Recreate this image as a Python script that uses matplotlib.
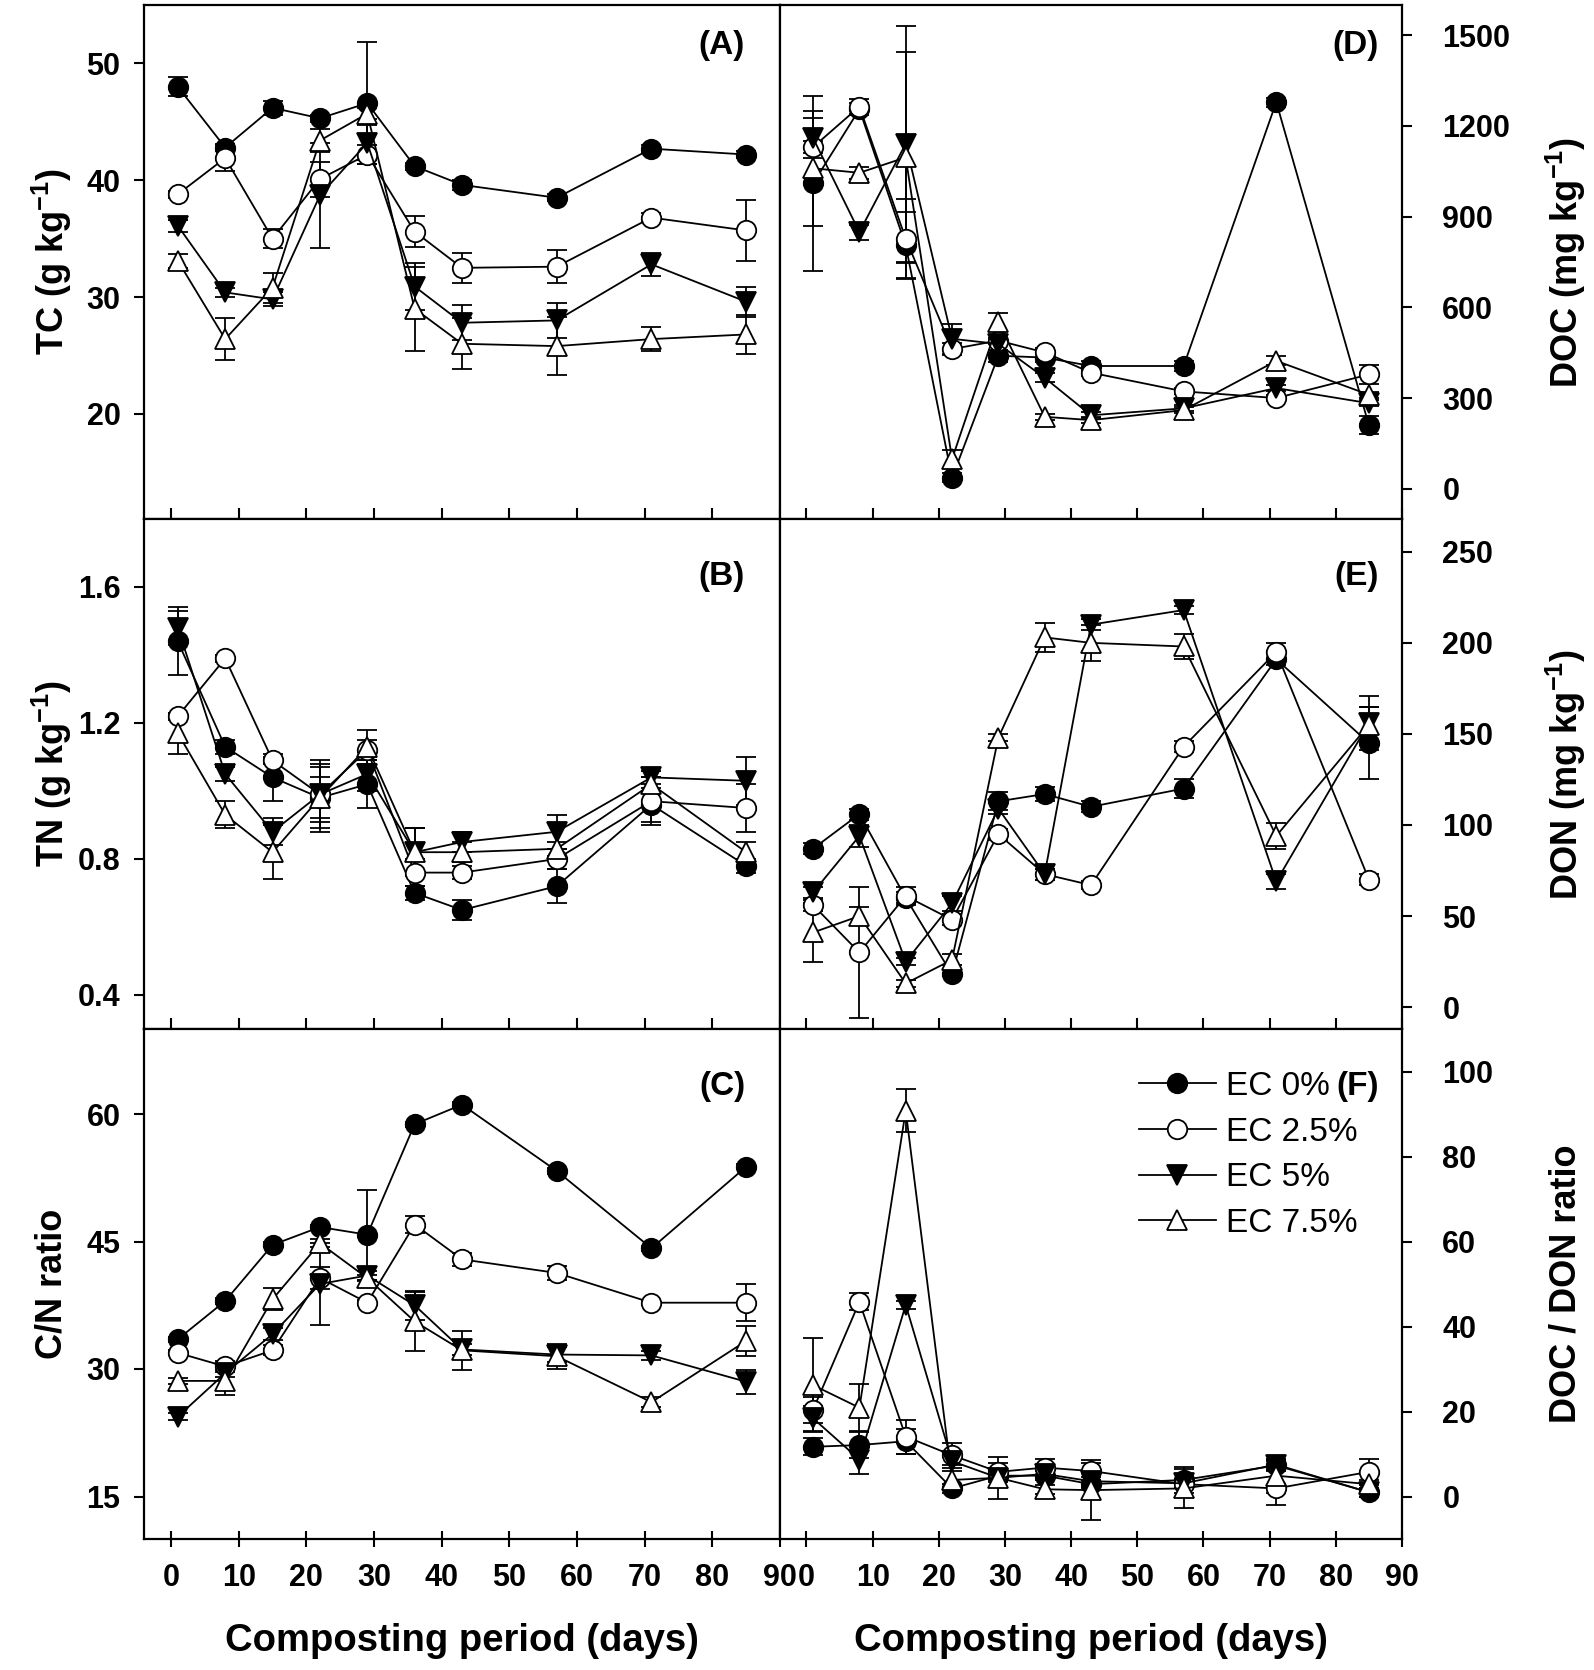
import matplotlib
matplotlib.use('Agg')
import matplotlib.pyplot as plt
from matplotlib import font_manager
from matplotlib.lines import Line2D

# Dias de muestreo
days = [1, 8, 15, 22, 29, 36, 43, 57, 71, 85]
series = ['EC 0%', 'EC 2.5%', 'EC 5%', 'EC 7.5%']

# (A) TC (g kg-1)
tc = [
    [48.0, 42.8, 46.2, 45.3, 46.6, 41.2, 39.6, 38.5, 42.7, 42.2],
    [38.8, 41.9, 35.0, 40.1, 42.2, 35.6, 32.5, 32.6, 36.8, 35.7],
    [36.1, 30.4, 29.8, 38.7, 43.2, 30.9, 27.8, 28.0, 32.8, 29.6],
    [33.1, 26.4, 30.8, 43.4, 45.7, 29.0, 26.0, 25.8, 26.4, 26.8],
]
tc_err = [
    [0.8, 0.3, 0.6, 0.3, 5.2, 0.3, 0.4, 0.3, 0.3, 0.3],
    [0.3, 1.1, 0.8, 1.5, 0.8, 1.3, 1.3, 1.4, 0.4, 2.6],
    [0.5, 0.4, 0.6, 4.5, 1.5, 2.0, 1.5, 1.5, 1.0, 1.3],
    [0.6, 1.8, 1.3, 1.0, 0.5, 3.6, 2.2, 2.5, 1.0, 1.7],
]

# (B) TN (g kg-1)
tn = [
    [1.44, 1.13, 1.04, 0.98, 1.02, 0.70, 0.65, 0.72, 0.96, 0.78],
    [1.22, 1.39, 1.09, 0.99, 1.12, 0.76, 0.76, 0.80, 0.97, 0.95],
    [1.48, 1.05, 0.88, 0.99, 1.05, 0.82, 0.85, 0.88, 1.04, 1.03],
    [1.17, 0.93, 0.82, 0.98, 1.13, 0.82, 0.82, 0.83, 1.02, 0.82],
]
tn_err = [
    [0.10, 0.02, 0.07, 0.06, 0.07, 0.02, 0.03, 0.05, 0.05, 0.02],
    [0.01, 0.01, 0.01, 0.10, 0.03, 0.04, 0.02, 0.03, 0.07, 0.07],
    [0.05, 0.02, 0.04, 0.08, 0.05, 0.07, 0.03, 0.05, 0.02, 0.07],
    [0.06, 0.04, 0.08, 0.10, 0.05, 0.07, 0.03, 0.02, 0.02, 0.03],
]

# (C) C/N ratio
cn = [
    [33.5, 38.0, 44.6, 46.7, 45.8, 58.8, 61.1, 53.3, 44.2, 53.8],
    [31.9, 30.3, 32.2, 40.7, 37.8, 47.0, 42.9, 41.3, 37.8, 37.8],
    [24.4, 29.5, 34.1, 40.0, 41.0, 37.5, 32.3, 31.7, 31.6, 28.5],
    [28.6, 28.6, 38.2, 44.8, 40.7, 35.6, 32.2, 31.5, 26.1, 33.3],
]
cn_err = [
    [0.3, 0.3, 0.3, 0.3, 5.3, 0.3, 0.3, 0.3, 0.3, 0.3],
    [0.3, 0.7, 0.6, 1.3, 0.3, 1.0, 0.8, 0.8, 0.3, 2.2],
    [0.4, 0.4, 0.7, 4.8, 0.5, 1.7, 0.7, 0.9, 0.5, 1.4],
    [0.4, 1.7, 1.3, 0.5, 0.4, 3.5, 2.3, 1.5, 0.6, 1.8],
]

# (D) DOC (mg kg-1)
doc = [
    [1010, 1255, 805, 36, 440, 434, 406, 406, 1279, 210],
    [1130, 1264, 827, 462, 490, 451, 384, 322, 300, 378],
    [1160, 849, 1141, 496, 479, 367, 243, 266, 333, 283],
    [1060, 1045, 1096, 98, 552, 238, 227, 260, 423, 311],
]
doc_err = [
    [290, 20, 110, 15, 20, 15, 15, 15, 15, 30],
    [20, 25, 130, 20, 10, 15, 10, 10, 10, 30],
    [65, 25, 390, 50, 30, 15, 10, 10, 10, 10],
    [190, 20, 350, 30, 30, 10, 10, 10, 15, 10],
]

# (E) DON (mg kg-1)
don = [
    [87, 106, 60, 18, 113, 117, 110, 120, 191, 145],
    [56, 30, 61, 48, 95, 73, 67, 143, 195, 70],
    [63, 94, 25, 57, 109, 73, 210, 218, 69, 156],
    [41, 50, 13, 26, 148, 203, 200, 198, 94, 155],
]
don_err = [
    [3, 3, 3, 1, 5, 4, 3, 5, 3, 20],
    [3, 36, 5, 3, 3, 3, 2, 3, 5, 3],
    [3, 6, 2, 4, 3, 3, 3, 2, 4, 15],
    [16, 5, 2, 3, 2, 8, 10, 7, 7, 10],
]

# (F) DOC / DON ratio
ratio = [
    [11.7, 12.1, 13.0, 1.9, 4.9, 4.9, 2.9, 3.9, 7.3, 1.0],
    [20.4, 45.8, 14.1, 9.7, 5.8, 6.8, 6.0, 2.9, 1.9, 5.8],
    [18.4, 8.7, 45.1, 8.3, 4.4, 5.3, 3.6, 3.1, 7.5, 1.0],
    [26.2, 20.9, 90.8, 3.9, 4.4, 1.7, 1.5, 1.9, 4.9, 2.9],
]
ratio_err = [
    [2, 3, 3, 1, 1, 1, 1, 3, 1, 1],
    [3, 2, 4, 3, 2, 2, 2, 1, 4, 3],
    [3, 3.5, 1, 1, 1, 1, 1, 1, 1, 1],
    [11, 5.5, 5, 2, 5, 1, 7, 4.5, 4, 1],
]

names = {f.name for f in font_manager.fontManager.ttflist}
base_font = 'Liberation Sans' if 'Liberation Sans' in names else 'DejaVu Sans'

plt.rcParams['font.family'] = base_font
plt.rcParams['mathtext.fontset'] = 'custom'
plt.rcParams['mathtext.bf'] = base_font + ':bold'
plt.rcParams['mathtext.rm'] = base_font + ':bold'

styles = [
    dict(marker='o', mfc='black', mec='black'),
    dict(marker='o', mfc='white', mec='black'),
    dict(marker='v', mfc='black', mec='black'),
    dict(marker='^', mfc='white', mec='black'),
]

fig = plt.figure(figsize=(15.94, 16.70), dpi=100)

W, H = 1594.0, 1670.0
col_x = [(144, 636), (780, 622)]
row_y = [(5, 519), (519, 1029), (1029, 1539)]
tag_y = [0.922, 0.888, 0.888]

panels = [
    # (col, row, data, err, ylim, yticks, label, tag)
    (0, 0, tc, tc_err, (11, 55), [20, 30, 40, 50], r'TC (g kg$^{\mathbf{-1}}$)', '(A)'),
    (0, 1, tn, tn_err, (0.3, 1.8), [0.4, 0.8, 1.2, 1.6], r'TN (g kg$^{\mathbf{-1}}$)', '(B)'),
    (0, 2, cn, cn_err, (10, 70), [15, 30, 45, 60], 'C/N ratio', '(C)'),
    (1, 0, doc, doc_err, (-100, 1600), [0, 300, 600, 900, 1200, 1500], r'DOC (mg kg$^{\mathbf{-1}}$)', '(D)'),
    (1, 1, don, don_err, (-12, 268), [0, 50, 100, 150, 200, 250], r'DON (mg kg$^{\mathbf{-1}}$)', '(E)'),
    (1, 2, ratio, ratio_err, (-10, 110), [0, 20, 40, 60, 80, 100], 'DOC / DON ratio', '(F)'),
]

for col, row, data, err, ylim, yticks, ylabel, tag in panels:
    x0, w = col_x[col]
    top, bot = row_y[row]
    ax = fig.add_axes([x0 / W, 1 - bot / H, w / W, (bot - top) / H])

    for i in range(4):
        ax.errorbar(days, data[i], yerr=err[i], color='black', lw=1.3,
                    elinewidth=1.3, capsize=7, capthick=1.3, ms=14,
                    mew=1.3, **styles[i])

    ax.set_xlim(-4, 90)
    ax.set_ylim(*ylim)
    ax.set_xticks(range(0, 91, 10))
    ax.set_yticks(yticks)
    for s in ax.spines.values():
        s.set_linewidth(1.6)

    if col == 0:
        ax.tick_params(axis='y', direction='out', length=7, width=1.5, pad=10)
        label_x, tag_x = 52, 0.945
    else:
        ax.yaxis.tick_right()
        ax.tick_params(axis='y', direction='out', length=7, width=1.5, pad=22)
        label_x, tag_x = 1566, 0.963
    ax.set_yticklabels([f'{t:g}' for t in yticks])
    fig.text(label_x / W, 1 - (top + bot) / 2 / H, ylabel, rotation=90,
             ha='center', va='center', fontsize=26, fontweight='bold')
    ax.text(tag_x, tag_y[row], tag, transform=ax.transAxes, ha='right',
            va='center', fontsize=24, fontweight='bold')

    if row < 2:
        ax.tick_params(axis='x', direction='in', length=8, width=1.5,
                       labelbottom=False)
    else:
        ax.tick_params(axis='x', direction='inout', length=12, width=1.5, pad=11)
        fig.text((x0 + w / 2) / W, 1 - 1641 / H, 'Composting period (days)',
                 ha='center', va='center', fontsize=27.5, fontweight='bold')

    for lab in ax.get_xticklabels() + ax.get_yticklabels():
        lab.set_fontweight('bold')
        lab.set_fontsize(22)

    if tag == '(F)':
        handles = [Line2D([], [], color='black', lw=1.3, ms=14, mew=1.3, **st)
                   for st in styles]
        ax.legend(handles, series, loc='upper left',
                  bbox_to_anchor=(0.556, 0.944), borderaxespad=0,
                  frameon=False, fontsize=24, handlelength=2.3,
                  handletextpad=0.3, labelspacing=0.44)

fig.savefig('out.png', dpi=100)
